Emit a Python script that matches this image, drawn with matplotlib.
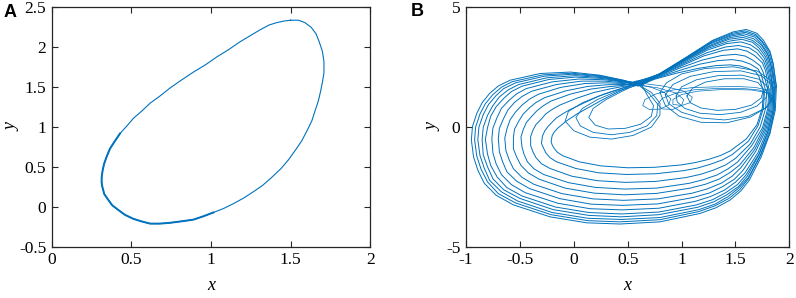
import matplotlib
matplotlib.use("Agg")
import matplotlib.pyplot as plt

plt.rcParams['font.family'] = ['Liberation Serif', 'DejaVu Serif']
plt.rcParams['axes.unicode_minus'] = False

BLUE = '#0072BD'

# ---- panel A: limit cycle ----
cycle_x = [1.50, 1.55, 1.59, 1.63, 1.66, 1.68, 1.70, 1.71, 1.71, 1.70, 1.69, 1.675, 1.655, 1.634,
           1.605, 1.571, 1.53, 1.487, 1.44, 1.382, 1.325, 1.267, 1.205, 1.141, 1.08, 1.016, 0.95,
           0.89, 0.82, 0.743, 0.68, 0.618, 0.56, 0.513, 0.46, 0.419, 0.38, 0.356, 0.33, 0.318,
           0.313, 0.314, 0.32, 0.329, 0.345, 0.366, 0.395, 0.429, 0.47, 0.513, 0.565, 0.618, 0.68,
           0.743, 0.815, 0.89, 0.965, 1.037, 1.11, 1.183, 1.25, 1.309, 1.365, 1.414, 1.46, 1.50]
cycle_y = [2.34, 2.34, 2.31, 2.25, 2.17, 2.07, 1.95, 1.82, 1.68, 1.56, 1.46, 1.33, 1.21, 1.08,
           0.96, 0.83, 0.71, 0.59, 0.48, 0.37, 0.27, 0.19, 0.11, 0.04, -0.02, -0.07, -0.12,
           -0.16, -0.18, -0.20, -0.21, -0.21, -0.18, -0.15, -0.10, -0.04, 0.02, 0.085, 0.16, 0.25,
           0.31, 0.38, 0.46, 0.54, 0.63, 0.73, 0.82, 0.92, 1.01, 1.11, 1.20, 1.30, 1.39,
           1.49, 1.59, 1.69, 1.78, 1.88, 1.97, 2.07, 2.15, 2.22, 2.28, 2.31, 2.33, 2.34]
# darker bottom-left stretch (trajectory passes there several times)
thick_x = [1.016, 0.95, 0.89, 0.82, 0.743, 0.68, 0.618, 0.56, 0.513, 0.46, 0.419, 0.38,
           0.356, 0.33, 0.318, 0.313, 0.314, 0.32, 0.329, 0.345, 0.366, 0.395, 0.429]
thick_y = [-0.07, -0.12, -0.16, -0.18, -0.20, -0.21, -0.21, -0.18, -0.15, -0.10, -0.04, 0.02,
           0.085, 0.16, 0.25, 0.31, 0.38, 0.46, 0.54, 0.63, 0.73, 0.82, 0.92]

# ---- panel B: chaotic attractor, traced by hand ----
# upper arcs: from the waist near (0.6, 1.8) up to the top-right and down the right side
top_arcs_x = [
    [0.58, 0.80, 1.05, 1.29, 1.48, 1.60, 1.70, 1.76, 1.82, 1.85, 1.88],
    [0.61, 0.80, 1.05, 1.28, 1.47, 1.59, 1.69, 1.75, 1.82, 1.85, 1.88],
    [0.56, 0.80, 1.04, 1.28, 1.47, 1.59, 1.69, 1.75, 1.81, 1.84, 1.87],
    [0.63, 0.79, 1.04, 1.27, 1.46, 1.58, 1.68, 1.74, 1.80, 1.83, 1.87],
    [0.60, 0.79, 1.03, 1.27, 1.45, 1.57, 1.67, 1.74, 1.80, 1.83, 1.86],
    [0.57, 0.79, 1.03, 1.26, 1.44, 1.57, 1.66, 1.73, 1.79, 1.82, 1.85],
    [0.62, 0.79, 1.02, 1.25, 1.44, 1.56, 1.66, 1.72, 1.78, 1.81, 1.85],
    [0.59, 0.78, 1.02, 1.24, 1.42, 1.55, 1.64, 1.71, 1.77, 1.80, 1.84],
    [0.64, 0.78, 1.01, 1.23, 1.41, 1.53, 1.63, 1.70, 1.76, 1.79, 1.83],
    [0.56, 0.77, 1.00, 1.21, 1.39, 1.52, 1.61, 1.68, 1.75, 1.78, 1.81],
    [0.60, 0.77, 0.98, 1.19, 1.37, 1.50, 1.59, 1.66, 1.73, 1.76, 1.80],
    [0.58, 0.76, 0.97, 1.17, 1.34, 1.47, 1.56, 1.64, 1.71, 1.74, 1.78],
    [0.62, 0.75, 0.95, 1.15, 1.32, 1.45, 1.54, 1.62, 1.69, 1.72, 1.76],
]
top_arcs_y = [
    [1.82, 2.24, 2.94, 3.63, 3.98, 4.08, 3.92, 3.63, 3.17, 2.66, 1.69],
    [1.78, 2.23, 2.91, 3.58, 3.92, 4.02, 3.87, 3.58, 3.14, 2.64, 1.68],
    [1.86, 2.22, 2.88, 3.54, 3.87, 3.96, 3.81, 3.54, 3.10, 2.62, 1.68],
    [1.74, 2.21, 2.86, 3.49, 3.81, 3.90, 3.76, 3.49, 3.07, 2.59, 1.67],
    [1.88, 2.20, 2.82, 3.43, 3.74, 3.83, 3.69, 3.43, 3.02, 2.57, 1.66],
    [1.76, 2.19, 2.79, 3.37, 3.67, 3.75, 3.62, 3.37, 2.98, 2.54, 1.65],
    [1.84, 2.17, 2.75, 3.30, 3.59, 3.67, 3.54, 3.30, 2.93, 2.50, 1.64],
    [1.72, 2.16, 2.70, 3.22, 3.49, 3.56, 3.44, 3.22, 2.87, 2.46, 1.62],
    [1.80, 2.13, 2.63, 3.10, 3.35, 3.41, 3.31, 3.10, 2.78, 2.41, 1.60],
    [1.90, 2.11, 2.56, 2.98, 3.21, 3.27, 3.17, 2.98, 2.69, 2.35, 1.59],
    [1.78, 2.07, 2.46, 2.80, 2.99, 3.04, 2.97, 2.80, 2.56, 2.27, 1.56],
    [1.84, 2.04, 2.35, 2.63, 2.78, 2.82, 2.76, 2.63, 2.43, 2.18, 1.53],
    [1.76, 2.00, 2.25, 2.45, 2.57, 2.60, 2.56, 2.45, 2.30, 2.10, 1.50],
]

# lower arcs: right side down, along the bottom, round the left edge and back to the waist
bottom_arcs_x = [
    [1.88, 1.87, 1.82, 1.74, 1.63, 1.55, 1.45, 1.32, 1.17, 0.80, 0.43, 0.12, -0.22, -0.56, -0.72, -0.83, -0.89, -0.93, -0.95, -0.94, -0.90, -0.85, -0.78, -0.70, -0.59, -0.31, -0.03, 0.24, 0.46, 0.58],
    [1.87, 1.86, 1.82, 1.73, 1.62, 1.54, 1.44, 1.31, 1.16, 0.80, 0.43, 0.13, -0.21, -0.54, -0.70, -0.80, -0.86, -0.90, -0.92, -0.91, -0.87, -0.82, -0.75, -0.67, -0.57, -0.29, -0.02, 0.25, 0.46, 0.62],
    [1.87, 1.86, 1.81, 1.73, 1.62, 1.53, 1.43, 1.31, 1.16, 0.80, 0.44, 0.13, -0.20, -0.52, -0.67, -0.78, -0.83, -0.87, -0.89, -0.88, -0.84, -0.79, -0.72, -0.65, -0.54, -0.27, -0.01, 0.25, 0.46, 0.55],
    [1.86, 1.85, 1.80, 1.72, 1.61, 1.53, 1.42, 1.30, 1.15, 0.79, 0.44, 0.14, -0.19, -0.50, -0.65, -0.75, -0.80, -0.84, -0.85, -0.84, -0.80, -0.75, -0.69, -0.61, -0.51, -0.25, 0.01, 0.26, 0.46, 0.60],
    [1.86, 1.85, 1.80, 1.72, 1.60, 1.52, 1.41, 1.29, 1.14, 0.79, 0.44, 0.14, -0.17, -0.48, -0.62, -0.71, -0.77, -0.80, -0.82, -0.80, -0.77, -0.72, -0.65, -0.58, -0.48, -0.23, 0.02, 0.27, 0.46, 0.64],
    [1.85, 1.84, 1.79, 1.71, 1.59, 1.50, 1.40, 1.27, 1.13, 0.79, 0.45, 0.15, -0.15, -0.45, -0.58, -0.67, -0.72, -0.75, -0.76, -0.75, -0.71, -0.67, -0.60, -0.53, -0.44, -0.20, 0.05, 0.28, 0.47, 0.56],
    [1.84, 1.83, 1.78, 1.69, 1.57, 1.49, 1.38, 1.26, 1.11, 0.78, 0.45, 0.16, -0.13, -0.41, -0.53, -0.62, -0.66, -0.69, -0.70, -0.69, -0.65, -0.61, -0.55, -0.48, -0.39, -0.16, 0.07, 0.29, 0.47, 0.61],
    [1.83, 1.82, 1.77, 1.68, 1.55, 1.47, 1.37, 1.24, 1.10, 0.78, 0.46, 0.18, -0.11, -0.37, -0.48, -0.56, -0.60, -0.63, -0.64, -0.62, -0.59, -0.54, -0.48, -0.41, -0.33, -0.12, 0.10, 0.30, 0.47, 0.57],
    [1.82, 1.81, 1.76, 1.67, 1.54, 1.45, 1.35, 1.22, 1.08, 0.77, 0.47, 0.19, -0.08, -0.32, -0.42, -0.49, -0.53, -0.56, -0.56, -0.55, -0.51, -0.47, -0.41, -0.35, -0.27, -0.07, 0.13, 0.31, 0.47, 0.63],
    [1.81, 1.80, 1.75, 1.65, 1.52, 1.43, 1.33, 1.20, 1.07, 0.77, 0.47, 0.20, -0.05, -0.28, -0.37, -0.43, -0.46, -0.48, -0.49, -0.47, -0.44, -0.39, -0.34, -0.28, -0.21, -0.03, 0.16, 0.33, 0.47, 0.59],
    [1.79, 1.78, 1.73, 1.64, 1.50, 1.41, 1.30, 1.18, 1.04, 0.76, 0.48, 0.22, -0.02, -0.22, -0.30, -0.35, -0.38, -0.40, -0.40, -0.38, -0.35, -0.30, -0.26, -0.20, -0.13, 0.03, 0.19, 0.34, 0.47, 0.60],
    [1.77, 1.76, 1.71, 1.62, 1.47, 1.38, 1.27, 1.15, 1.02, 0.76, 0.49, 0.23, 0.02, -0.16, -0.22, -0.26, -0.28, -0.30, -0.29, -0.27, -0.24, -0.20, -0.16, -0.10, -0.04, 0.10, 0.23, 0.36, 0.48, 0.62],
    [1.76, 1.75, 1.70, 1.60, 1.45, 1.36, 1.25, 1.13, 1.00, 0.75, 0.50, 0.25, 0.05, -0.10, -0.15, -0.18, -0.20, -0.21, -0.20, -0.18, -0.15, -0.11, -0.07, -0.02, 0.03, 0.15, 0.27, 0.38, 0.48, 0.56],
]
bottom_arcs_y = [
    [1.69, 0.71, -0.26, -1.24, -2.21, -2.67, -3.05, -3.37, -3.61, -3.96, -4.05, -4.00, -3.75, -3.25, -2.85, -2.35, -1.80, -1.24, -0.54, 0.02, 0.57, 1.02, 1.41, 1.72, 1.96, 2.24, 2.30, 2.17, 1.96, 1.82],
    [1.68, 0.71, -0.25, -1.21, -2.16, -2.61, -2.98, -3.29, -3.53, -3.87, -3.96, -3.91, -3.66, -3.17, -2.78, -2.29, -1.76, -1.21, -0.53, 0.01, 0.55, 0.98, 1.36, 1.67, 1.90, 2.18, 2.25, 2.14, 1.95, 1.76],
    [1.67, 0.72, -0.23, -1.18, -2.11, -2.55, -2.91, -3.22, -3.45, -3.78, -3.86, -3.81, -3.57, -3.09, -2.71, -2.23, -1.72, -1.19, -0.53, 0.00, 0.52, 0.95, 1.32, 1.61, 1.85, 2.13, 2.21, 2.11, 1.93, 1.86],
    [1.67, 0.72, -0.21, -1.14, -2.05, -2.48, -2.83, -3.12, -3.35, -3.66, -3.75, -3.69, -3.45, -2.98, -2.62, -2.16, -1.66, -1.16, -0.52, -0.01, 0.49, 0.90, 1.26, 1.55, 1.78, 2.06, 2.15, 2.07, 1.92, 1.72],
    [1.66, 0.73, -0.20, -1.11, -1.99, -2.40, -2.74, -3.03, -3.25, -3.55, -3.63, -3.57, -3.34, -2.88, -2.53, -2.09, -1.61, -1.13, -0.51, -0.02, 0.46, 0.85, 1.20, 1.48, 1.71, 1.99, 2.09, 2.03, 1.90, 1.84],
    [1.64, 0.73, -0.17, -1.06, -1.91, -2.30, -2.63, -2.90, -3.10, -3.39, -3.46, -3.41, -3.18, -2.74, -2.40, -1.99, -1.54, -1.08, -0.49, -0.04, 0.42, 0.79, 1.12, 1.39, 1.61, 1.89, 2.01, 1.98, 1.88, 1.78],
    [1.63, 0.74, -0.14, -1.00, -1.81, -2.18, -2.49, -2.75, -2.94, -3.21, -3.27, -3.22, -2.99, -2.57, -2.26, -1.87, -1.45, -1.03, -0.48, -0.05, 0.37, 0.72, 1.03, 1.28, 1.50, 1.78, 1.92, 1.92, 1.85, 1.90],
    [1.61, 0.75, -0.11, -0.93, -1.70, -2.05, -2.34, -2.58, -2.76, -3.00, -3.06, -3.00, -2.78, -2.39, -2.10, -1.74, -1.36, -0.97, -0.46, -0.07, 0.31, 0.63, 0.92, 1.17, 1.37, 1.66, 1.82, 1.85, 1.82, 1.74],
    [1.59, 0.76, -0.07, -0.86, -1.58, -1.90, -2.17, -2.39, -2.55, -2.77, -2.83, -2.76, -2.55, -2.18, -1.92, -1.60, -1.25, -0.91, -0.44, -0.09, 0.25, 0.54, 0.81, 1.03, 1.23, 1.52, 1.70, 1.77, 1.78, 1.80],
    [1.57, 0.77, -0.04, -0.78, -1.46, -1.75, -2.00, -2.20, -2.35, -2.55, -2.59, -2.52, -2.32, -1.98, -1.74, -1.45, -1.15, -0.84, -0.42, -0.12, 0.19, 0.45, 0.69, 0.90, 1.09, 1.38, 1.59, 1.69, 1.75, 1.88],
    [1.55, 0.78, 0.01, -0.69, -1.31, -1.58, -1.79, -1.97, -2.11, -2.27, -2.31, -2.24, -2.05, -1.73, -1.53, -1.28, -1.02, -0.77, -0.40, -0.14, 0.11, 0.34, 0.55, 0.74, 0.92, 1.21, 1.45, 1.60, 1.71, 1.76],
    [1.52, 0.79, 0.06, -0.59, -1.15, -1.37, -1.55, -1.71, -1.82, -1.95, -1.98, -1.91, -1.73, -1.45, -1.28, -1.07, -0.88, -0.68, -0.37, -0.17, 0.02, 0.21, 0.39, 0.56, 0.72, 1.02, 1.29, 1.49, 1.66, 1.84],
    [1.50, 0.80, 0.10, -0.50, -1.00, -1.19, -1.35, -1.48, -1.58, -1.68, -1.70, -1.62, -1.45, -1.20, -1.06, -0.90, -0.75, -0.60, -0.35, -0.20, -0.05, 0.10, 0.25, 0.40, 0.55, 0.85, 1.15, 1.40, 1.62, 1.80],
]

# loops around the right-hand focus
right_loops_x = [
    [0.85, 0.92, 1.08, 1.30, 1.55, 1.74, 1.84, 1.85, 1.78, 1.62, 1.40, 1.18, 1.00, 0.88, 0.85],
    [0.95, 1.00, 1.14, 1.34, 1.56, 1.72, 1.80, 1.79, 1.70, 1.55, 1.36, 1.17, 1.03, 0.96, 0.95],
    [1.05, 1.10, 1.22, 1.40, 1.58, 1.71, 1.76, 1.74, 1.65, 1.50, 1.33, 1.18, 1.08, 1.05],
    [0.80, 0.86, 1.00, 1.22, 1.48, 1.70, 1.83, 1.86, 1.80, 1.64, 1.42, 1.18, 0.98, 0.85, 0.80],
]
right_loops_y = [
    [1.35, 1.78, 2.12, 2.32, 2.35, 2.15, 1.75, 1.25, 0.80, 0.45, 0.30, 0.38, 0.62, 0.98, 1.35],
    [1.30, 1.68, 1.98, 2.15, 2.17, 2.00, 1.68, 1.25, 0.88, 0.62, 0.52, 0.58, 0.78, 1.05, 1.30],
    [1.30, 1.62, 1.88, 2.02, 2.02, 1.86, 1.58, 1.22, 0.92, 0.74, 0.70, 0.80, 1.02, 1.30],
    [1.45, 1.85, 2.22, 2.45, 2.52, 2.35, 1.95, 1.40, 0.85, 0.42, 0.18, 0.20, 0.45, 0.90, 1.45],
]

# small hooks in the middle, between the two foci, running on into the right side
hooks_x = [
    [0.58, 0.72, 0.84, 0.90, 0.88, 0.80, 0.70, 0.64, 0.66, 0.76, 0.92, 1.10, 1.30, 1.50, 1.68, 1.80],
    [0.60, 0.78, 0.95, 1.02, 1.00, 0.92, 0.82, 0.78, 0.82, 0.95, 1.12, 1.35, 1.55, 1.72, 1.82],
    [0.62, 0.85, 1.02, 1.10, 1.08, 1.00, 0.92, 0.92, 1.00, 1.15, 1.40, 1.65, 1.78, 1.85],
]
hooks_y = [
    [1.80, 1.66, 1.45, 1.18, 0.92, 0.75, 0.74, 0.90, 1.15, 1.38, 1.55, 1.65, 1.68, 1.70, 1.66, 1.55],
    [1.76, 1.64, 1.42, 1.15, 0.90, 0.74, 0.76, 0.95, 1.20, 1.42, 1.56, 1.62, 1.62, 1.55, 1.40],
    [1.84, 1.70, 1.50, 1.25, 1.02, 0.90, 0.95, 1.15, 1.36, 1.50, 1.58, 1.55, 1.45, 1.30],
]

# loops around the left-hand focus
left_loops_x = [
    [0.58, 0.72, 0.80, 0.80, 0.72, 0.55, 0.35, 0.15, 0.00, -0.08, -0.05, 0.08, 0.28, 0.46, 0.58],
    [0.60, 0.70, 0.78, 0.77, 0.68, 0.52, 0.35, 0.18, 0.06, 0.02, 0.08, 0.22, 0.40, 0.60],
    [0.62, 0.68, 0.74, 0.72, 0.62, 0.48, 0.32, 0.20, 0.14, 0.18, 0.30, 0.45, 0.62],
]
left_loops_y = [
    [1.82, 1.45, 1.00, 0.50, 0.00, -0.35, -0.50, -0.42, -0.15, 0.25, 0.65, 1.02, 1.38, 1.65, 1.82],
    [1.76, 1.40, 0.95, 0.48, 0.05, -0.22, -0.32, -0.22, 0.05, 0.40, 0.78, 1.15, 1.50, 1.76],
    [1.86, 1.35, 0.90, 0.45, 0.12, -0.05, -0.08, 0.08, 0.40, 0.78, 1.15, 1.50, 1.86],
]


def style_axes(ax):
    for s in ax.spines.values():
        s.set_linewidth(0.9)
        s.set_color('#262626')
    ax.tick_params(direction='in', top=True, right=True, length=4, width=0.8,
                   labelsize=12.5, pad=4, color='#262626')


fig = plt.figure(figsize=(7.96, 2.98), dpi=100)

axA = fig.add_axes([0.065, 0.172, 0.400, 0.803])
axA.plot(cycle_x, cycle_y, color=BLUE, lw=0.8)
axA.plot(thick_x, thick_y, color=BLUE, lw=1.4)
axA.set_xlim(0, 2)
axA.set_ylim(-0.5, 2.5)
axA.set_xticks([0, 0.5, 1, 1.5, 2])
axA.set_xticklabels(['0', '0.5', '1', '1.5', '2'])
axA.set_yticks([-0.5, 0, 0.5, 1, 1.5, 2, 2.5])
axA.set_yticklabels(['-0.5', '0', '0.5', '1', '1.5', '2', '2.5'])
axA.set_xlabel('x', style='italic', fontsize=13, va='center')
axA.set_ylabel('y', style='italic', fontsize=13, va='center')
axA.xaxis.set_label_coords(0.5, -0.16)
axA.yaxis.set_label_coords(-0.125, 0.5)
style_axes(axA)

axB = fig.add_axes([0.5854, 0.172, 0.4062, 0.803])
for xs, ys in zip(top_arcs_x, top_arcs_y):
    axB.plot(xs, ys, color=BLUE, lw=0.7)
for xs, ys in zip(bottom_arcs_x, bottom_arcs_y):
    axB.plot(xs, ys, color=BLUE, lw=0.7)
for xs, ys in zip(right_loops_x, right_loops_y):
    axB.plot(xs, ys, color=BLUE, lw=0.6)
for xs, ys in zip(hooks_x, hooks_y):
    axB.plot(xs, ys, color=BLUE, lw=0.5)
for xs, ys in zip(left_loops_x, left_loops_y):
    axB.plot(xs, ys, color=BLUE, lw=0.6)
axB.set_xlim(-1, 2)
axB.set_ylim(-5, 5)
axB.set_xticks([-1, -0.5, 0, 0.5, 1, 1.5, 2])
axB.set_xticklabels(['-1', '-0.5', '0', '0.5', '1', '1.5', '2'])
axB.set_yticks([-5, 0, 5])
axB.set_yticklabels(['-5', '0', '5'])
axB.set_xlabel('x', style='italic', fontsize=13, va='center')
axB.set_ylabel('y', style='italic', fontsize=13, va='center')
axB.xaxis.set_label_coords(0.5, -0.16)
axB.yaxis.set_label_coords(-0.102, 0.5)
style_axes(axB)

fig.text(0.004, 0.958, 'A', family='Liberation Sans', weight='bold', fontsize=13, va='center')
fig.text(0.516, 0.962, 'B', family='Liberation Sans', weight='bold', fontsize=13, va='center')

fig.savefig('out.png', dpi=100)
